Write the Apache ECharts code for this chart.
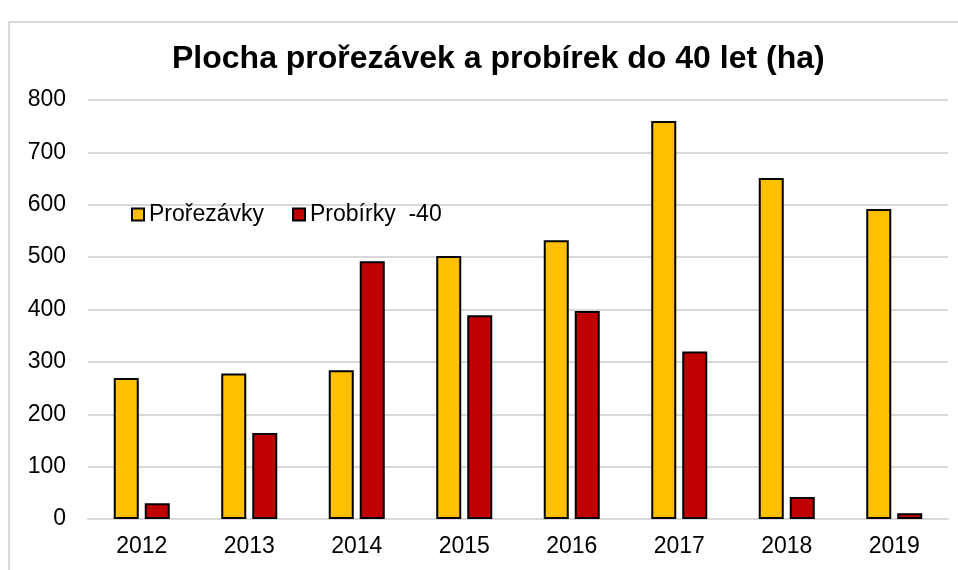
<!DOCTYPE html>
<html>
<head>
<meta charset="utf-8">
<script src="https://cdn.jsdelivr.net/npm/echarts@6/dist/echarts.min.js"></script>
<style>
  html, body { margin: 0; padding: 0; background: #fff; }
  #chart { width: 958px; height: 570px; }
</style>
</head>
<body>
<div id="chart"></div>
<script>
const years = ['2012', '2013', '2014', '2015', '2016', '2017', '2018', '2019']
const prorezavky = [269, 278, 284, 502, 532, 760, 651, 592]
const probirky = [30, 164, 492, 389, 397, 320, 42, 11]
const seriesNames = ['Prořezávky', 'Probírky  -40']

const chart = echarts.init(document.getElementById('chart'))
const font = 'Liberation Sans, Arial, sans-serif'

chart.setOption({
  animation: false,
  textStyle: { fontFamily: font },
  title: {
    text: 'Plocha prořezávek a probírek do 40 let (ha)',
    left: 167,
    top: 38,
    textStyle: { fontSize: 32, fontWeight: 'bold', color: '#000', fontFamily: font }
  },
  legend: {
    left: 126,
    top: 198,
    itemWidth: 12,
    itemHeight: 12,
    itemGap: 28,
    icon: 'rect',
    textStyle: { fontSize: 23, color: '#000', fontFamily: font },
    data: seriesNames
  },
  graphic: [{
    type: 'rect',
    shape: { x: 9, y: 22, width: 980, height: 600 },
    style: { fill: 'none', stroke: '#d9d9d9', lineWidth: 2 },
    silent: true
  }],
  grid: { left: 88, right: 10, top: 100, bottom: 51 },
  xAxis: {
    type: 'category',
    data: years,
    axisLine: { lineStyle: { color: '#d9d9d9', width: 2 } },
    axisTick: { show: false },
    axisLabel: { fontSize: 23, color: '#000', margin: 16, fontFamily: font }
  },
  yAxis: {
    type: 'value',
    min: 0,
    max: 800,
    interval: 100,
    axisLine: { show: false },
    axisTick: { show: false },
    axisLabel: { fontSize: 23, color: '#000', margin: 22, fontFamily: font },
    splitLine: { lineStyle: { color: '#d9d9d9', width: 2 } }
  },
  series: [{
    name: seriesNames[0],
    type: 'bar',
    data: prorezavky,
    barWidth: 25,
    barGap: '24%',
    itemStyle: { color: '#FFC000', borderColor: '#000', borderWidth: 2 }
  }, {
    name: seriesNames[1],
    type: 'bar',
    data: probirky,
    barWidth: 25,
    barGap: '24%',
    itemStyle: { color: '#C00000', borderColor: '#000', borderWidth: 2 }
  }]
})
</script>
</body>
</html>
